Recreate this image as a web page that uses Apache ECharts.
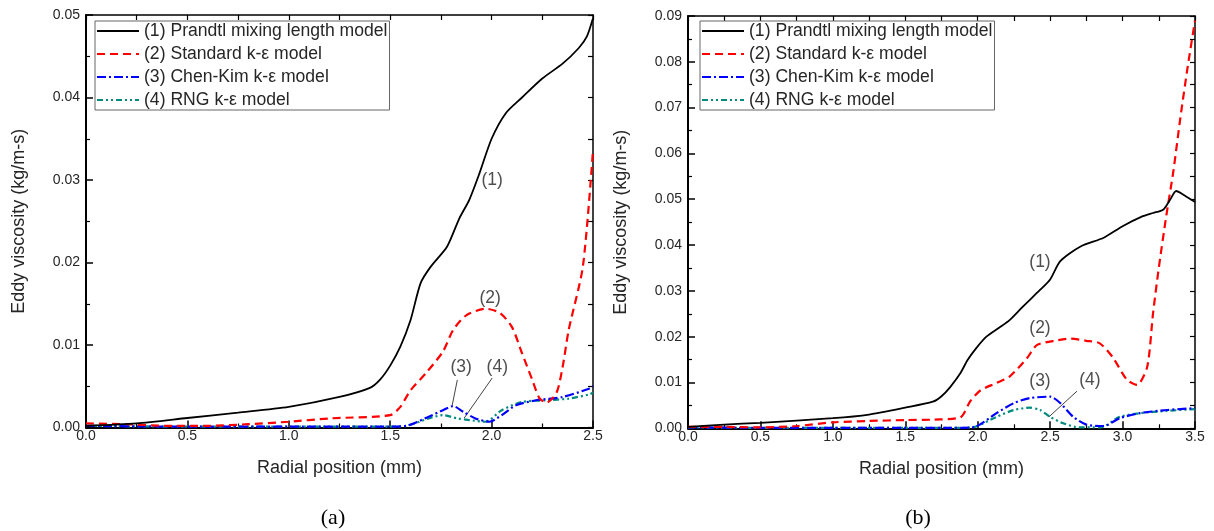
<!DOCTYPE html>
<html>
<head>
<meta charset="utf-8">
<script src="https://cdn.jsdelivr.net/npm/echarts@6/dist/echarts.min.js"></script>
<style>html,body{margin:0;padding:0;background:#fff;}#c{width:1214px;height:531px;}</style>
</head>
<body>
<div id="c"></div>
<script>
// ---- Series names ----
const names = ['(1) Prandtl mixing length model', '(2) Standard k-\u03b5 model', '(3) Chen-Kim k-\u03b5 model', '(4) RNG k-\u03b5 model'];

// ---- Panel (a) data: [radial position (mm), eddy viscosity (kg/m-s)] ----
const a1 = [[0,0.0002],[0.25,0.0005],[0.5,0.00115],[0.75,0.0018],[1.0,0.0025],[1.25,0.0037],[1.4,0.0048],[1.45,0.0058],[1.5,0.0075],[1.55,0.0098],[1.6,0.0130],[1.65,0.0175],[1.7,0.0195],[1.78,0.0219],[1.84,0.0253],[1.89,0.0276],[1.94,0.0308],[2.0,0.0350],[2.07,0.0381],[2.15,0.0400],[2.25,0.0423],[2.35,0.0441],[2.43,0.0460],[2.47,0.0474],[2.5,0.0496]];
const a2 = [[0,0.0005],[0.2,0.0004],[0.4,0.0002],[0.6,0.0002],[0.8,0.0004],[1.0,0.0007],[1.2,0.0011],[1.5,0.0015],[1.55,0.0025],[1.6,0.0045],[1.68,0.0067],[1.76,0.0092],[1.81,0.0118],[1.875,0.0136],[1.97,0.0144],[2.04,0.0139],[2.1,0.0122],[2.15,0.0090],[2.2,0.0058],[2.235,0.0036],[2.27,0.0030],[2.32,0.0042],[2.35,0.0073],[2.38,0.0118],[2.45,0.0195],[2.5,0.0336]];
const a3 = [[0,0.0002],[0.5,0.0001],[1.0,0.0001],[1.5,0.0001],[1.58,0.0002],[1.69,0.0013],[1.76,0.0021],[1.81,0.0026],[1.86,0.0019],[1.92,0.0011],[1.99,0.0007],[2.05,0.0015],[2.12,0.0027],[2.22,0.0033],[2.35,0.0037],[2.48,0.0047],[2.5,0.0050]];
const a4 = [[0,0.0002],[0.5,0.0001],[1.0,0.0001],[1.5,0.0001],[1.58,0.0002],[1.69,0.0011],[1.76,0.0015],[1.83,0.0011],[1.89,0.0009],[1.97,0.0007],[2.05,0.0021],[2.15,0.0031],[2.27,0.0033],[2.38,0.0035],[2.48,0.0040],[2.5,0.0042]];

// ---- Panel (b) data ----
const b1 = [[0,0.0003],[0.25,0.0008],[0.5,0.0012],[1.0,0.0022],[1.25,0.0030],[1.5,0.0045],[1.69,0.0058],[1.75,0.0070],[1.81,0.0090],[1.88,0.0120],[1.93,0.0149],[1.99,0.0175],[2.06,0.0200],[2.15,0.0220],[2.22,0.0236],[2.31,0.0265],[2.43,0.0302],[2.5,0.0325],[2.57,0.0365],[2.71,0.0397],[2.87,0.0416],[3.0,0.0441],[3.14,0.0463],[3.21,0.0470],[3.28,0.0477],[3.33,0.0500],[3.37,0.0518],[3.42,0.0510],[3.5,0.0494]];
const b2 = [[0,0.0003],[0.25,0.0003],[0.5,0.0002],[0.75,0.0005],[1.0,0.0013],[1.25,0.0016],[1.5,0.0018],[1.7,0.0019],[1.88,0.0024],[1.95,0.0060],[2.02,0.0083],[2.13,0.0099],[2.22,0.0113],[2.34,0.0153],[2.41,0.0182],[2.55,0.0192],[2.64,0.0196],[2.75,0.0191],[2.84,0.0186],[2.93,0.0156],[3.03,0.0106],[3.1,0.0095],[3.17,0.0134],[3.21,0.0250],[3.25,0.0350],[3.3,0.0460],[3.35,0.0560],[3.4,0.0680],[3.45,0.0790],[3.5,0.0890]];
const b3 = [[0,0.0002],[0.5,0.0001],[1.0,0.0001],[1.5,0.0001],[1.9,0.0001],[1.99,0.0004],[2.13,0.0033],[2.25,0.0055],[2.36,0.0066],[2.5,0.0069],[2.57,0.0055],[2.66,0.0025],[2.75,0.0008],[2.87,0.0005],[2.98,0.0022],[3.12,0.0033],[3.31,0.0040],[3.5,0.0044]];
const b4 = [[0,0.0002],[0.5,0.0001],[1.0,0.0001],[1.5,0.0001],[1.9,0.0001],[1.99,0.0004],[2.13,0.0025],[2.25,0.0040],[2.36,0.0045],[2.43,0.0040],[2.5,0.0025],[2.59,0.0011],[2.7,0.0002],[2.85,0.0002],[2.98,0.0025],[3.12,0.0033],[3.31,0.0038],[3.5,0.0042]];

// ---- Curve annotations (data coordinates) ----
const annotA = [['(1)',2.003,0.0300],['(2)',1.993,0.0157],['(3)',1.850,0.0073],['(4)',2.028,0.0073]];
const arrowsA = [[[1.831,0.00576],[1.806,0.00273]],[[2.003,0.0060],[1.865,0.00115]]];
const annotB = [['(1)',2.43,0.0363],['(2)',2.43,0.0219],['(3)',2.43,0.0103],['(4)',2.775,0.0105]];
const arrowsB = [[[2.685,0.0081],[2.492,0.0025]]];

// ---- Axis ranges ----
const xMaxA = 2.5, yMaxA = 0.05;
const xMaxB = 3.5, yMaxB = 0.09;
const panelLabels = ['(a)', '(b)'];

const FONT = 'Liberation Sans, Arial, sans-serif';
const colors = ['#000000', '#ff0000', '#0000ff', '#008b80'];
const dashes = ['solid', [8, 5], [9, 3, 2, 3], [6, 3, 2, 3, 2, 3]];

function lineSeries(data, i, xi, yi) {
  return {
    name: names[i], type: 'line', data: data, xAxisIndex: xi, yAxisIndex: yi,
    symbol: 'none', showSymbol: false, smooth: 0.25, z: 10 - i,
    lineStyle: { color: colors[i], width: i === 0 ? 1.8 : 2.2, type: dashes[i] },
    itemStyle: { color: colors[i] }
  };
}

function annotSeries(ann, arrows, xi, yi) {
  return {
    type: 'scatter', xAxisIndex: xi, yAxisIndex: yi, symbolSize: 0, silent: true, z: 20,
    itemStyle: { color: '#222' },
    data: ann.map(a => ({ name: a[0], value: [a[1], a[2]] })),
    label: { show: true, position: 'inside', formatter: '{b}', fontFamily: FONT, fontSize: 17.5, color: '#222', textBorderWidth: 0, textBorderColor: 'transparent' },
    markLine: {
      silent: true, animation: false,
      symbol: ['none', 'arrow'], symbolSize: [0, 7],
      lineStyle: { color: '#444', width: 1, type: 'solid' },
      label: { show: false },
      data: arrows.map(ar => [{ coord: ar[0] }, { coord: ar[1] }])
    }
  };
}

function xAxes(gi, max) {
  return [{
    gridIndex: gi, type: 'value', min: 0, max: max, interval: 0.5, position: 'bottom',
    name: 'Radial position (mm)', nameLocation: 'middle', nameGap: 32,
    nameTextStyle: { fontFamily: FONT, fontSize: 18, color: '#262626' },
    axisLine: { show: true, onZero: false, lineStyle: { color: '#000', width: 2 } },
    axisTick: { show: true, inside: true, length: 7, lineStyle: { color: '#000', width: 1.5 } },
    minorTick: { show: true, splitNumber: 2, length: 4, lineStyle: { color: '#000', width: 1.2 } },
    axisLabel: { fontFamily: FONT, fontSize: 14, color: '#262626', margin: 2, formatter: v => v.toFixed(1) },
    splitLine: { show: false }
  }, {
    gridIndex: gi, type: 'value', min: 0, max: max, interval: 0.25, position: 'top',
    axisLine: { show: true, onZero: false, lineStyle: { color: '#000', width: 1.5 } },
    axisTick: { show: true, inside: true, length: 5, lineStyle: { color: '#000', width: 1.2 } },
    axisLabel: { show: false }, splitLine: { show: false }
  }];
}

function yAxes(gi, max) {
  return [{
    gridIndex: gi, type: 'value', min: 0, max: max, interval: 0.01, position: 'left',
    name: 'Eddy viscosity (kg/m-s)', nameLocation: 'middle', nameGap: 58,
    nameTextStyle: { fontFamily: FONT, fontSize: 18, color: '#262626' },
    axisLine: { show: true, onZero: false, lineStyle: { color: '#000', width: 2 } },
    axisTick: { show: true, inside: true, length: 7, lineStyle: { color: '#000', width: 1.5 } },
    minorTick: { show: true, splitNumber: 2, length: 4, lineStyle: { color: '#000', width: 1.2 } },
    axisLabel: { fontFamily: FONT, fontSize: 14, color: '#262626', margin: 6, formatter: v => v.toFixed(2) },
    splitLine: { show: false }
  }, {
    gridIndex: gi, type: 'value', min: 0, max: max, interval: 0.005, position: 'right',
    axisLine: { show: true, onZero: false, lineStyle: { color: '#000', width: 1.5 } },
    axisTick: { show: true, inside: true, length: 5, lineStyle: { color: '#000', width: 1.2 } },
    axisLabel: { show: false }, splitLine: { show: false }
  }];
}

function legend(left) {
  return {
    data: names, orient: 'vertical', left: left, top: 21,
    itemWidth: 42, itemHeight: 14, itemGap: 5,
    padding: [1, 2, 1, 1], borderColor: '#666', borderWidth: 1, backgroundColor: '#fff',
    selectedMode: false,
    itemStyle: { opacity: 0, borderWidth: 0 },
    textStyle: { fontFamily: FONT, fontSize: 17.6, color: '#262626', lineHeight: 18 }
  };
}

const chart = echarts.init(document.getElementById('c'), null, { renderer: 'canvas' });
const xa = xAxes(0, xMaxA), xb = xAxes(1, xMaxB);
const ya = yAxes(0, yMaxA), yb = yAxes(1, yMaxB);
chart.setOption({
  animation: false,
  backgroundColor: '#fff',
  grid: [
    { left: 86, top: 15, width: 507, height: 412.5 },
    { left: 688, top: 16, width: 507, height: 412.3 }
  ],
  xAxis: [xa[0], xa[1], xb[0], xb[1]],
  yAxis: [ya[0], ya[1], yb[0], yb[1]],
  legend: [legend(95), legend(700)],
  series: [
    lineSeries(a1, 0, 0, 0), lineSeries(a2, 1, 0, 0), lineSeries(a3, 2, 0, 0), lineSeries(a4, 3, 0, 0),
    lineSeries(b1, 0, 2, 2), lineSeries(b2, 1, 2, 2), lineSeries(b3, 2, 2, 2), lineSeries(b4, 3, 2, 2),
    annotSeries(annotA, arrowsA, 0, 0), annotSeries(annotB, arrowsB, 2, 2)
  ],
  graphic: [
    { type: 'text', x: 333, y: 518, style: { text: panelLabels[0], font: '22px "Liberation Serif", "Times New Roman", serif', fill: '#000', align: 'center', verticalAlign: 'middle' } },
    { type: 'text', x: 918, y: 518, style: { text: panelLabels[1], font: '22px "Liberation Serif", "Times New Roman", serif', fill: '#000', align: 'center', verticalAlign: 'middle' } }
  ]
});
</script>
</body>
</html>
